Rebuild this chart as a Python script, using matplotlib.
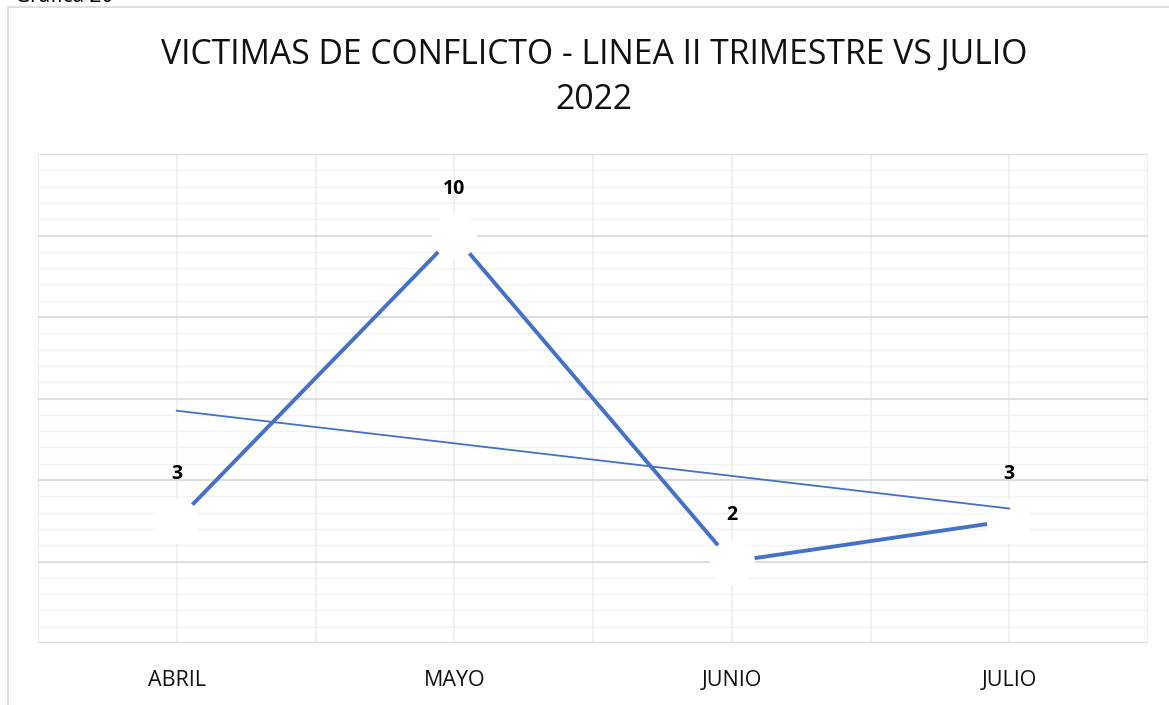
import matplotlib
matplotlib.use("Agg")
import matplotlib.pyplot as plt
import numpy as np
from matplotlib.patches import Rectangle

categories = ["ABRIL", "MAYO", "JUNIO", "JULIO"]
values = [3, 10, 2, 3]
title_text = "VICTIMAS DE CONFLICTO - LINEA II TRIMESTRE VS JULIO\n2022"

W, H = 1169, 705
fig = plt.figure(figsize=(W / 100, H / 100), dpi=100)
fig.patch.set_facecolor("white")
plt.rcParams['font.family'] = ['Open Sans', 'DejaVu Sans']

# chart frame
fig.add_artist(Rectangle((8 / W, -0.1), 1.2, (705 - 7) / H + 0.1, transform=fig.transFigure,
                         fill=False, edgecolor="#d9d9d9", linewidth=1.2))
fig.text(15 / W, 1 + 14 / H, "Gráfica 20", ha="left", va="top", fontsize=15, color="black")

left, right, top, bottom = 38, 1148, 154, 643
ax = fig.add_axes([left / W, (H - bottom) / H, (right - left) / W, (bottom - top) / H])
ax.set_xlim(-0.5, 3.5)
ax.set_ylim(0, 12)

# gridlines
for yv in np.arange(0, 12.0001, 0.4):
    ax.axhline(yv, color="#f2f2f2", lw=1.0, zorder=0)
for yv in np.arange(2, 12.0001, 2):
    ax.axhline(yv, color="#d9d9d9", lw=1.2, zorder=0.5)
for xv in np.arange(-0.5, 3.5001, 0.5):
    ax.axvline(xv, color="#ededed", lw=1.2, zorder=0.2)
ax.axhline(0, color="#d9d9d9", lw=1.5, zorder=0.6)

for s in ax.spines.values():
    s.set_visible(False)
ax.set_yticks([])
ax.set_xticks(range(len(categories)))
ax.set_xticklabels(categories, fontsize=15.5, color="#111111")
ax.tick_params(axis="x", length=0, pad=19.5)

x = np.arange(len(values))
blue = "#4472C4"
ax.plot(x, values, color=blue, lw=2.8, zorder=2, solid_capstyle="butt")
ax.plot(x, values, linestyle="none", marker="o", markersize=31, markerfacecolor="white",
        markeredgecolor="white", markeredgewidth=1.5, zorder=3)

# linear trendline
coef = np.polyfit(x + 1, values, 1)
trend = np.polyval(coef, x + 1)
ax.plot([x[0], x[-1]], [trend[0], trend[-1]], color=blue, lw=1.3, zorder=4)

for xi, v in zip(x, values):
    ax.annotate(str(v), (xi, v), xytext=(0, 33.5), textcoords="offset points",
                ha="center", va="center", fontsize=14, fontweight="bold", color="black")

fig.text(594 / W, 1 - 77 / H, title_text, ha="center", va="center", fontsize=24.3,
         color="#111111", linespacing=1.45)

fig.savefig("out.png", dpi=100, facecolor="white")
